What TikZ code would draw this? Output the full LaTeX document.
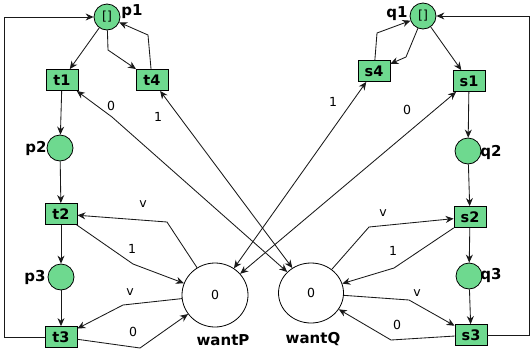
\documentclass[tikz,border=0pt]{standalone}
\usepackage{fontspec}
\setmainfont{DejaVu Sans}
\usetikzlibrary{arrows.meta,shapes.geometric}
\definecolor{pgreen}{RGB}{110,217,143}
\tikzset{
  place/.style={circle,draw,fill=pgreen,minimum size=26pt,inner sep=0pt,line width=0.8pt,font=\fontsize{12.5}{14}\selectfont},
  trans/.style={rectangle,draw,fill=pgreen,minimum width=32pt,minimum height=21pt,inner sep=0pt,line width=0.8pt,font=\fontsize{14.5}{16}\selectfont\bfseries},
  bigplace/.style={ellipse,draw,fill=white,inner sep=0pt,line width=0.8pt,font=\fontsize{12.5}{14}\selectfont},
  nlabel/.style={inner sep=0pt,font=\fontsize{15}{17}\selectfont\bfseries},
  alabel/.style={inner sep=0pt,font=\fontsize{12.5}{14}\selectfont},
  arc/.style={draw=black!90,line width=0.85pt,-{Stealth[length=8pt,width=7pt]}},
  biarc/.style={draw=black!90,line width=0.85pt,{Stealth[length=8pt,width=7pt]}-{Stealth[length=8pt,width=7pt]}}
}
\begin{document}
\begin{tikzpicture}[x=1pt,y=-1pt]
\useasboundingbox (0,0) rectangle (532,354);
% places
\node[place] (p1) at (107,17) {[]};
\node[place] (p2) at (60,148) {};
\node[place] (p3) at (61,277) {};
\node[place] (q1) at (423,16) {[]};
\node[place] (q2) at (468,151) {};
\node[place] (q3) at (469,276) {};
\node[bigplace,minimum width=66pt,minimum height=64pt] (wantP) at (215,295) {0};
\node[bigplace,minimum width=65pt,minimum height=60pt] (wantQ) at (311,293) {0};
% transitions
\node[trans] (t1) at (62,80) {t1};
\node[trans] (t4) at (152,80) {t4};
\node[trans] (t2) at (61,214) {t2};
\node[trans] (t3) at (61,337) {t3};
\node[trans] (s4) at (374,71) {s4};
\node[trans] (s1) at (469,81) {s1};
\node[trans] (s2) at (470,217) {s2};
\node[trans] (s3) at (471,335) {s3};
% place names
\node[nlabel] (lp1) at (132,12) {p1};
\node[nlabel] (lp2) at (36,148) {p2};
\node[nlabel] (lp3) at (35,277) {p3};
\node[nlabel] (lq1) at (397,14) {q1};
\node[nlabel] (lq2) at (491,152) {q2};
\node[nlabel] (lq3) at (491,275) {q3};
\node[nlabel] (lwp) at (223,340) {wantP};
\node[nlabel] (lwq) at (313,339) {wantQ};
% left process
\draw[arc] (p1) -- (t1);
\draw[arc] (p1) -- (108,50) -- (t4);
\draw[arc] (t4) -- (148,35) -- (p1);
\draw[arc] (t1) -- (p2);
\draw[arc] (p2) -- (t2);
\draw[arc] (t2) -- (p3);
\draw[arc] (p3) -- (t3);
\draw[arc] (t3.west) -- ++(-40,0) |- (p1.west);
% right process
\draw[arc] (q1) -- (406,57) -- (s4);
\draw[arc] (s4) -- (377,33) -- (q1);
\draw[arc] (q1) -- (s1);
\draw[arc] (s1) -- (q2);
\draw[arc] (q2) -- (s2);
\draw[arc] (s2) -- (q3);
\draw[arc] (q3) -- (s3);
\draw[arc] (s3.east) -- ++(42,0) |- (q1.east);
% wantP arcs
\draw[arc] (wantP) -- (167,222) -- (t2);
\node[alabel] (v1) at (143,204) {v};
\draw[arc] (t2) -- (133,264) -- (wantP);
\node[alabel] (o1) at (132,249) {1};
\draw[arc] (wantP) -- (123,305) -- (t3);
\node[alabel] (v2) at (130,292) {v};
\draw[arc] (t3) -- (140,348) -- (wantP);
\node[alabel] (z1) at (133,332) {0};
% wantQ arcs
\draw[arc] (wantQ) -- (369,227) -- (s2);
\node[alabel] (v3) at (383,213) {v};
\draw[arc] (s2) -- (394,268) -- (wantQ);
\node[alabel] (o2) at (393,251) {1};
\draw[arc] (wantQ) -- (409,300) -- (s3);
\node[alabel] (v4) at (417,293) {v};
\draw[arc] (s3) -- (391,340) -- (wantQ);
\node[alabel] (z2) at (397,325) {0};
% test arcs
\draw[biarc] (t1) -- (112,117) -- (wantQ);
\node[alabel] (z3) at (111,106) {0};
\draw[biarc] (t4) -- (wantQ);
\node[alabel] (o3) at (158,117) {1};
\draw[biarc] (s4) -- (wantP);
\node[alabel] (o4) at (333,102) {1};
\draw[biarc] (s1) -- (wantP);
\node[alabel] (z4) at (407,110) {0};
\end{tikzpicture}
\end{document}
